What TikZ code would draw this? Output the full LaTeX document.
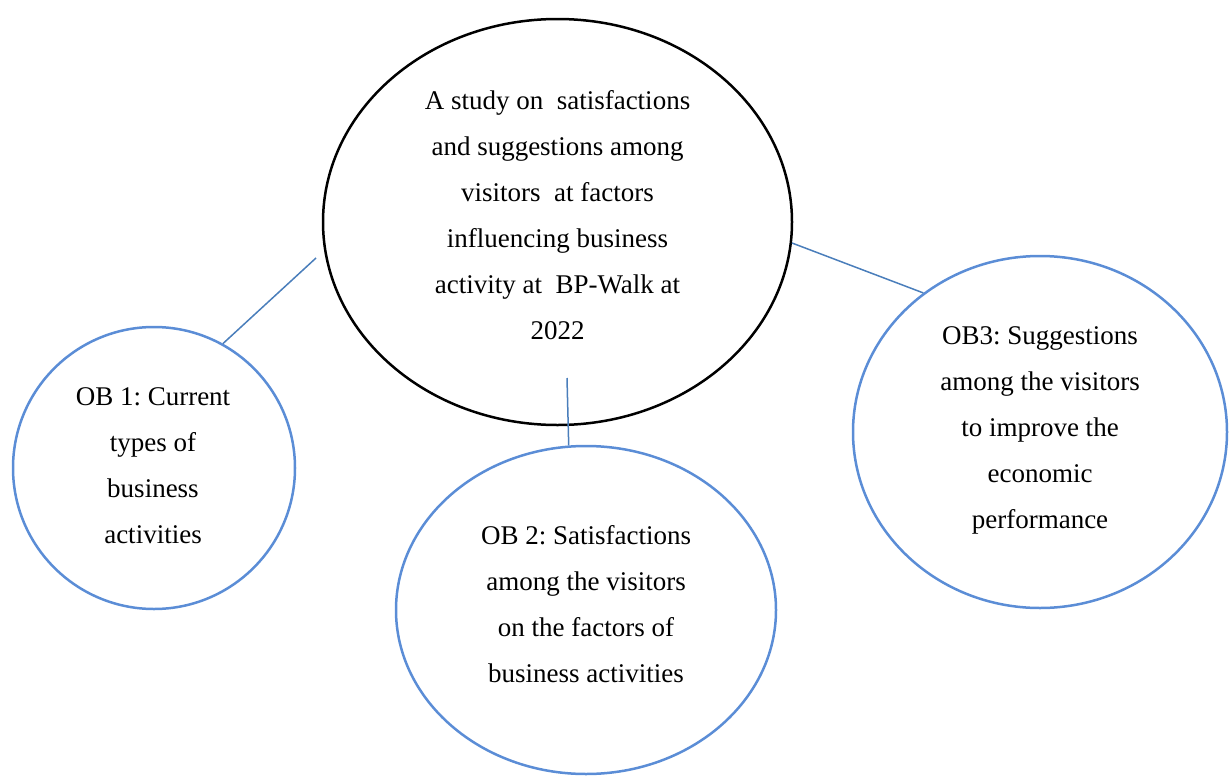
\documentclass[tikz,border=0pt]{standalone}
\usepackage{fontspec}
\setmainfont{Liberation Serif}
\usetikzlibrary{shapes.geometric}
\definecolor{circblue}{RGB}{91,141,214}
\definecolor{lineblue}{RGB}{74,126,187}
\frenchspacing
\begin{document}
\begin{tikzpicture}[x=0.5pt,y=-0.5pt,
  bubble/.style={ellipse, draw=circblue, line width=1.25pt, inner sep=0pt},
  mainbubble/.style={ellipse, draw=black, line width=1.25pt, inner sep=0pt},
  txt/.style={align=center, font=\frenchspacing\fontsize{13.5}{23}\selectfont, inner sep=0pt},
  link/.style={draw=lineblue, line width=0.75pt}]
\useasboundingbox (0,0) rectangle (1232,776);
\node[mainbubble, minimum width=234.5pt, minimum height=203pt] (main) at (557.5,222) {};
\node[bubble, minimum width=141pt, minimum height=141pt] (ob1) at (154,468) {};
\node[bubble, minimum width=190pt, minimum height=164pt] (ob2) at (586,610) {};
\node[bubble, minimum width=187pt, minimum height=176pt] (ob3) at (1040,432) {};
\node[txt] (tmain) at (557.5,215) {A study on~ satisfactions\\and suggestions among\\visitors~ at factors\\influencing business\\activity at~ BP-Walk at\\2022};
\node[txt] (tob1) at (153,466) {OB 1: Current\\types of\\business\\activities};
\node[txt] (tob2) at (586,604) {OB 2: Satisfactions\\among the visitors\\on the factors of\\business activities};
\node[txt] (tob3) at (1040,430) {OB3: Suggestions\\among the visitors\\to improve the\\economic\\performance};
\coordinate (c1) at (316,258);
\coordinate (c2) at (567,378);
\coordinate (c3) at (792,243);
\draw[link] (ob1.61) -- (c1);
\draw[link] (c2) -- (ob2.96.6);
\draw[link] (c3) -- (ob3.130);
\end{tikzpicture}
\end{document}
